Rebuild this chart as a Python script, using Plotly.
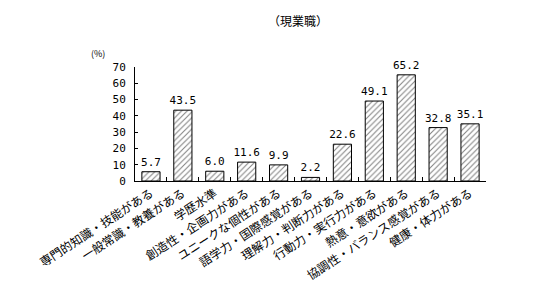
import plotly.graph_objects as go

categories = ["専門的知識・技能がある", "一般常識・教養がある", "学歴水準", "創造性・企画力がある",
              "ユニークな個性がある", "語学力・国際感覚がある", "理解力・判断力がある",
              "行動力・実行力がある", "熱意・意欲がある", "協調性・バランス感覚がある", "健康・体力がある"]
values = [5.7, 43.5, 6.0, 11.6, 9.9, 2.2, 22.6, 49.1, 65.2, 32.8, 35.1]
value_labels = ["5.7", "43.5", "6.0", "11.6", "9.9", "2.2", "22.6", "49.1", "65.2", "32.8", "35.1"]
y_ticks = [0, 10, 20, 30, 40, 50, 60, 70]

FONT = "Noto Sans CJK JP"

fig = go.Figure(go.Bar(
    x=categories, y=values,
    text=value_labels, textposition="outside", cliponaxis=False,
    textfont=dict(family="DejaVu Sans Mono", size=11, color="black"),
    marker=dict(color="white", line=dict(color="black", width=1),
                pattern=dict(shape="/", fgcolor="black", bgcolor="white", size=4, solidity=0.25)),
))

L, R, T, B = 135, 71, 67, 126
W, H = 557, 307

def px_x(p):
    return (p - L) / (W - L - R)

def px_y(p):
    return 1 - (p - T) / (H - T - B)

fig.update_layout(
    width=W, height=H,
    margin=dict(l=L, r=R, t=T, b=B),
    paper_bgcolor="white", plot_bgcolor="white",
    bargap=0.43, showlegend=False,
    uniformtext=dict(minsize=11, mode="show"),
    font=dict(family=FONT, color="black"),
    annotations=[
        dict(text="（現業職）", x=px_x(298), y=px_y(20), xref="paper", yref="paper", showarrow=False,
             xanchor="center", yanchor="middle", font=dict(size=12, family=FONT)),
        dict(text="(%)", x=px_x(98), y=px_y(53), xref="paper", yref="paper", showarrow=False,
             xanchor="center", yanchor="middle", font=dict(size=9, family=FONT)),
    ],
)

fig.update_xaxes(
    showline=True, linecolor="black", linewidth=1,
    ticks="inside", tickson="boundaries", ticklen=4, tickcolor="black",
    tickangle=-33, tickfont=dict(family=FONT, size=12), showgrid=False,
)
fig.update_yaxes(
    range=[0, 70], tickvals=y_ticks, showline=True, linecolor="black", linewidth=1,
    ticks="inside", ticklen=3, tickcolor="black", ticklabelstandoff=6,
    tickfont=dict(family="DejaVu Sans Mono", size=11), showgrid=False, zeroline=False,
)

fig.write_html("out.html")
